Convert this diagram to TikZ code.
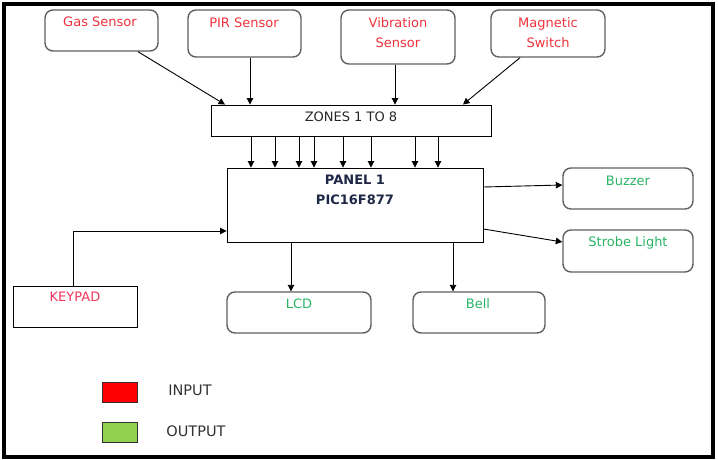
\documentclass[tikz,border=0pt]{standalone}
\usepackage{fontspec}
\setmainfont{DejaVu Sans}
\usetikzlibrary{arrows.meta}
\definecolor{incol}{RGB}{238,50,60}
\definecolor{keycol}{RGB}{240,50,90}
\definecolor{outcol}{RGB}{40,180,100}
\definecolor{panelcol}{RGB}{30,40,70}
\definecolor{boxgray}{RGB}{95,95,95}
\definecolor{legred}{RGB}{255,0,0}
\definecolor{leggreen}{RGB}{146,208,80}
\tikzset{
  rbox/.style={draw=boxgray,line width=1.4pt,rounded corners=8pt,inner sep=0pt},
  sbox/.style={draw=black,line width=0.9pt,inner sep=0pt},
  txt/.style={font=\fontsize{13}{20}\selectfont,inner sep=0pt,align=center},
  intxt/.style={txt,text=incol},
  outtxt/.style={txt,text=outcol},
  legtxt/.style={txt,font=\fontsize{14.5}{20}\selectfont,text=black!80},
  arr/.style={draw=black,line width=0.9pt,-{Triangle[length=6.5pt,width=6.5pt]}},
  legbox/.style={draw=black!80,line width=0.9pt,inner sep=0pt,minimum width=35pt,minimum height=20pt}
}
\begin{document}
\begin{tikzpicture}[x=1pt,y=-1pt]
\useasboundingbox (0,0) rectangle (718,460);
\draw[line width=4pt] (4,4) rectangle (713,457);

% input boxes
\node[rbox,minimum width=113pt,minimum height=41pt] (gas) at (101.5,30.5) {};
\node[rbox,minimum width=113pt,minimum height=47pt] (pir) at (244.5,33.5) {};
\node[rbox,minimum width=114pt,minimum height=54pt] (vib) at (398,37) {};
\node[rbox,minimum width=114pt,minimum height=47pt] (mag) at (548,33.5) {};
\node[intxt] (gast) at (100,22) {Gas Sensor};
\node[intxt] (pirt) at (244,23) {PIR Sensor};
\node[intxt] (vibt) at (398,33) {Vibration\\Sensor};
\node[intxt] (magt) at (548,33) {Magnetic\\Switch};

% zones and panel
\node[sbox,minimum width=280pt,minimum height=31pt] (zones) at (351,120.5) {};
\node[txt,text=black!85] (zonest) at (351,117) {ZONES 1 TO 8};
\node[sbox,minimum width=256pt,minimum height=74pt] (panel) at (355,205) {};
\node[txt,text=panelcol,font=\fontsize{13}{20}\selectfont\bfseries] (panelt) at (355,190) {PANEL 1\\PIC16F877};

% outputs
\node[rbox,minimum width=130pt,minimum height=41pt] (buzzer) at (628,188.5) {};
\node[rbox,minimum width=130pt,minimum height=42pt] (strobe) at (628,251) {};
\node[rbox,minimum width=144pt,minimum height=41pt] (lcd) at (299,312.5) {};
\node[rbox,minimum width=132pt,minimum height=41pt] (bell) at (479,312.5) {};
\node[outtxt] (buzzert) at (628,181) {Buzzer};
\node[outtxt] (strobet) at (628,243) {Strobe Light};
\node[outtxt] (lcdt) at (299,304) {LCD};
\node[outtxt] (bellt) at (478,304) {Bell};

% keypad
\node[sbox,minimum width=124pt,minimum height=41pt] (keypad) at (75,306.5) {};
\node[txt,text=keycol] (keypadt) at (75,297) {KEYPAD};

% connectors
\draw[arr] ([xshift=36.5pt]gas.south) -- ([xshift=-126pt]zones.north);
\draw[arr] ([xshift=5.5pt]pir.south) -- ([xshift=5.5pt]pir.south |- zones.north);
\draw[arr] ([xshift=-3pt]vib.south) -- ([xshift=-3pt]vib.south |- zones.north);
\draw[arr] ([xshift=-28pt]mag.south) -- ([xshift=112pt]zones.north);
\foreach \x in {251,275,299,314,343,371,415,438}
  \draw[arr] (zones.south -| \x,0) -- (panel.north -| \x,0);
\draw[arr] (panel.east |- 0,187) -- (buzzer.west |- 0,185);
\draw[arr] (panel.east |- 0,229) -- (strobe.west |- 0,242);
\draw[arr] (keypad.north -| 73,0) |- (panel.west |- 0,231);
\draw[arr] (panel.south -| 291,0) -- (lcd.north -| 291,0);
\draw[arr] (panel.south -| 453,0) -- (bell.north -| 453,0);

% legend
\node[legbox,fill=legred] (legin) at (119.5,392) {};
\node[legbox,fill=leggreen] (legout) at (119.5,432.5) {};
\node[legtxt] (legint) at (190,390) {INPUT};
\node[legtxt] (legoutt) at (196,431) {OUTPUT};
\end{tikzpicture}
\end{document}
